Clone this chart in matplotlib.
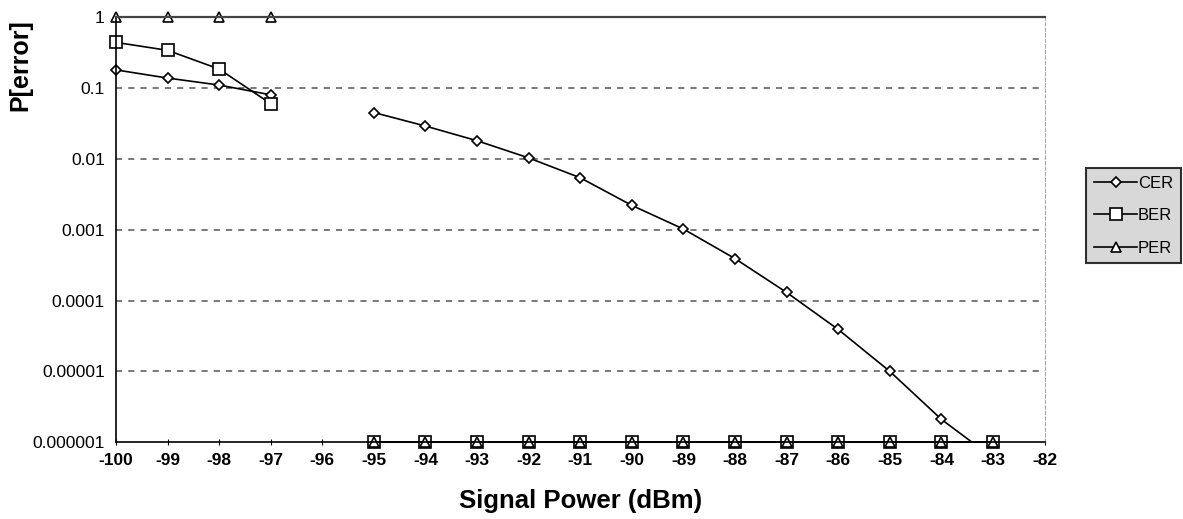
import numpy as np
from matplotlib import pyplot as plt

plt.rc('font', family='Liberation Sans')
plt.rc('axes', unicode_minus=False)

power = [-100, -99, -98, -97, -96, -95, -94, -93, -92, -91, -90, -89,
         -88, -87, -86, -85, -84, -83]
nan = np.nan
cer = [0.18, 0.138, 0.11, 0.08, nan, 0.045, 0.029, 0.018, 0.0103, 0.0054,
       0.0022, 0.00102, 0.00039, 0.00013, 3.9e-5, 1.0e-5, 2.1e-6, 6e-7]
ber = [0.44, 0.34, 0.185, 0.06, nan] + [1e-6] * 13
per = [1, 1, 1, 1, nan] + [1e-6] * 13

yticks = [1e-6, 1e-5, 1e-4, 1e-3, 1e-2, 1e-1, 1]
ylabels = ['0.000001', '0.00001', '0.0001', '0.001', '0.01', '0.1', '1']


def main():
    fig = plt.figure(figsize=(11.83, 5.19), dpi=100)
    ax = fig.add_axes([0.098, 0.148, 0.785, 0.819])

    mk = dict(color='black', lw=1.2, mfc='white', mec='black', mew=1.2)
    # CER: line clipped at the axis, markers only where inside the range
    c = np.array(cer)
    ax.plot(power, c, color='black', lw=1.2)
    c_in = np.where(c >= 1e-6, c, nan)
    ax.plot(power, c_in, marker='D', ms=5.5, ls='none', clip_on=False,
            mfc='white', mec='black', mew=1.2)
    ax.plot([], [], marker='D', ms=5.5, label='CER', **mk)
    ax.plot(power, ber, marker='s', ms=8, label='BER', clip_on=False, **mk)
    ax.plot(power, per, marker='^', ms=6.5, label='PER', clip_on=False, **mk)

    ax.set_yscale('log')
    ax.set_ylim(1e-6, 1)
    ax.set_xlim(-100, -82)
    ax.set_xticks(range(-100, -81))
    ax.set_yticks(yticks)
    ax.set_yticklabels(ylabels)
    ax.minorticks_off()
    ax.tick_params(axis='y', length=0, labelsize=12.5, pad=8)
    ax.tick_params(axis='x', direction='inout', length=4, labelsize=12.5, pad=6)
    for t in ax.get_xticklabels():
        t.set_fontweight('bold')

    for v in yticks[1:-1]:
        ax.axhline(v, color='#555555', ls=(0, (4, 4)), lw=1.1, zorder=0)

    ax.spines['top'].set_color('#444444')
    ax.spines['top'].set_linewidth(1.6)
    ax.spines['right'].set_color('#aaaaaa')
    ax.spines['right'].set_linestyle((0, (3, 2)))
    ax.spines['left'].set_linewidth(1.2)
    ax.spines['bottom'].set_linewidth(1.2)

    ax.set_xlabel('Signal Power (dBm)', fontsize=18.5, fontweight='bold', labelpad=15)
    ax.set_ylabel('P[error]', fontsize=18, fontweight='bold')
    ax.yaxis.set_label_coords(-0.090, 0.887)

    handles, labels = ax.get_legend_handles_labels()
    leg = ax.legend(handles, labels, loc='upper left',
                    bbox_to_anchor=(1.045, 0.645), frameon=True,
                    fancybox=False, edgecolor='black', facecolor='#cfcfcf',
                    fontsize=12, handlelength=2.6, handletextpad=0.05,
                    borderpad=0.45, labelspacing=1.05, borderaxespad=0)
    leg.get_frame().set_linewidth(1.5)

    plt.savefig('out.png', dpi=100)


if __name__ == '__main__':
    main()
